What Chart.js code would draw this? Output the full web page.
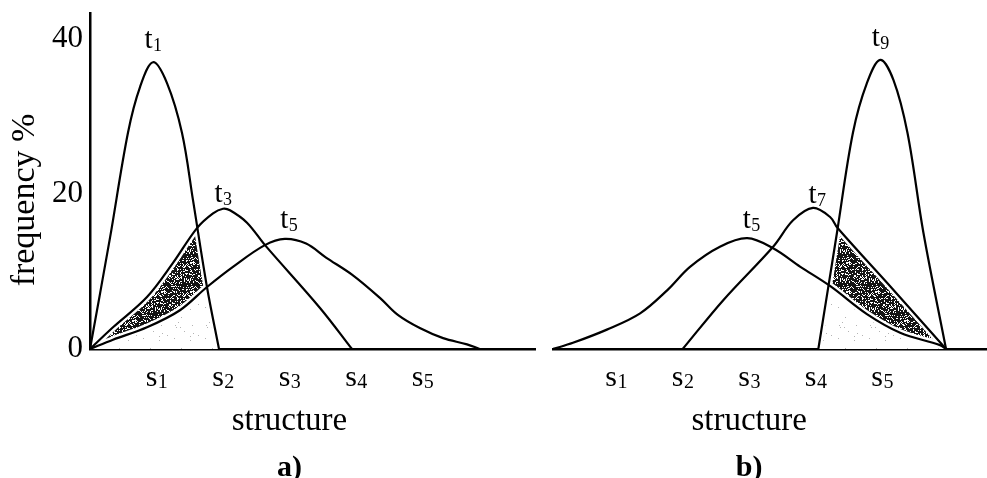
<!DOCTYPE html>
<html>
<head>
<meta charset="utf-8">
<script src="https://cdn.jsdelivr.net/npm/chart.js@4.4.1/dist/chart.umd.min.js"></script>
<style>
  html, body { margin: 0; padding: 0; background: #fff; }
  #wrap { position: relative; width: 987px; height: 478px; overflow: hidden; background: #fff; }
  canvas { position: absolute; top: 0; }
  #panelA { left: 0; }
  #panelB { left: 540px; }
</style>
</head>
<body>
<div id="wrap">
  <canvas id="panelA" width="540" height="478"></canvas>
  <canvas id="panelB" width="447" height="478"></canvas>
</div>
<script>
const FONT = "'Liberation Serif', 'Times New Roman', serif";

// structure classes along the x axis
const structureTicks = [1, 2, 3, 4, 5];
const structureLabels = ['s1', 's2', 's3', 's4', 's5'];
// frequency axis ticks (%)
const frequencyTicks = [0, 20, 40];

// panel a): distributions at t1, t3, t5
const aT1X = [0, 0.30, 0.571, 0.752, 0.947, 1.158, 1.383, 1.549, 1.759, 1.94];
const aT1F = [0, 14.3, 27.9, 33.8, 37.0, 34.3, 27.9, 19.2, 8.0, 0];

const aT3X = [0, 0.346, 0.857, 1.248, 1.609, 1.85, 2.0, 2.105, 2.361, 2.632, 3.459, 3.94];
const aT3F = [0, 2.8, 6.7, 11.1, 15.6, 17.5, 18.1, 17.9, 16.3, 13.4, 5.3, 0];

const aT5X = [0, 0.346, 0.857, 1.353, 1.76, 2.15, 2.63, 2.93, 3.25, 3.55, 3.94, 4.36, 4.63, 4.96, 5.31, 5.67, 5.86];
const aT5F = [0, 1.2, 2.8, 5.0, 8.0, 10.6, 13.4, 14.2, 13.6, 11.8, 9.6, 6.6, 4.4, 2.7, 1.4, 0.6, 0];

// panel b): distributions at t5, t7, t9
const bT5X = [0.05, 0.35, 0.86, 1.36, 1.77, 2.11, 2.56, 2.97, 3.36, 3.77, 4.22, 4.77, 5.27, 5.87, 5.96];
const bT5F = [0, 0.8, 2.5, 4.6, 7.6, 10.6, 13.2, 14.3, 13.0, 10.6, 8.1, 4.5, 2.1, 0.5, 0];

const bT7X = [2.0, 2.61, 3.36, 3.66, 3.96, 4.22, 4.33, 5.15, 5.96];
const bT7F = [0, 6.3, 13.2, 16.6, 18.2, 17.0, 15.6, 7.8, 0];

const bT9X = [4.04, 4.32, 4.56, 4.77, 4.97, 5.17, 5.38, 5.62, 5.96];
const bT9F = [0, 15.0, 27.9, 34.3, 37.3, 34.7, 27.9, 15.0, 0];

// ---- stipple textures for the overlap areas ----
function makeTile(size, bg, fg, perMille, seed) {
  const c = document.createElement('canvas');
  c.width = c.height = size;
  const g = c.getContext('2d');
  g.fillStyle = bg;
  g.fillRect(0, 0, size, size);
  g.fillStyle = fg;
  for (let y = 0; y < size; y++) {
    for (let x = 0; x < size; x++) {
      let h = (Math.imul(x + 1, 374761393) + Math.imul(y + 1, 668265263) + Math.imul(seed, 362437)) >>> 0;
      h = Math.imul(h ^ (h >>> 13), 1274126177) >>> 0;
      h = (h ^ (h >>> 16)) >>> 0;
      if (h % 1000 < perMille) g.fillRect(x, y, 1, 1);
    }
  }
  return c;
}
const darkTile = makeTile(29, '#141414', '#ffffff', 250, 7);
const lightTile = makeTile(31, '#ffffff', '#b4b4b4', 22, 3);

// trace a dataset's drawn curve, optionally closed down to the baseline
function traceCurve(ctx, chart, i, closeTo) {
  const meta = chart.getDatasetMeta(i);
  const line = meta.dataset;
  line.updateControlPoints(chart.chartArea, 'x');
  ctx.beginPath();
  line.path(ctx);
  if (closeTo !== undefined) {
    const pts = meta.data;
    ctx.lineTo(pts[pts.length - 1].x, closeTo);
    ctx.lineTo(pts[0].x, closeTo);
    ctx.closePath();
  }
}

// shaded overlap: between `upper` and `lower`, inside `outer`
const shadePlugin = {
  id: 'shade',
  beforeDatasetsDraw(chart) {
    const o = chart.options.plugins.shade;
    if (!o) return;
    const ctx = chart.ctx;
    const area = chart.chartArea;
    const base = chart.scales.y.getPixelForValue(0);
    ctx.save();
    ctx.beginPath();
    ctx.rect(area.left, area.top, area.right - area.left, area.bottom - area.top);
    ctx.clip();
    traceCurve(ctx, chart, o.outer, base);
    ctx.clip();
    traceCurve(ctx, chart, o.upper, base);
    ctx.clip();
    ctx.fillStyle = ctx.createPattern(darkTile, 'repeat');
    ctx.fillRect(area.left, area.top, area.right - area.left, area.bottom - area.top);
    traceCurve(ctx, chart, o.lower, base);
    ctx.fillStyle = ctx.createPattern(lightTile, 'repeat');
    ctx.fill();
    ctx.strokeStyle = '#fff';
    ctx.lineWidth = 7;
    ctx.lineJoin = 'round';
    [o.outer, o.upper, o.lower].forEach(i => {
      traceCurve(ctx, chart, i);
      ctx.stroke();
    });
    ctx.restore();
  }
};

// letter followed by a subscript number, centred on cx
function drawSubscripted(ctx, text, cx, baseline, size, subSize, drop) {
  const main = text.charAt(0);
  const sub = text.slice(1);
  ctx.font = size + 'px ' + FONT;
  const w1 = ctx.measureText(main).width;
  ctx.font = subSize + 'px ' + FONT;
  const w2 = ctx.measureText(sub).width;
  const x = cx - (w1 + w2) / 2;
  ctx.textAlign = 'left';
  ctx.textBaseline = 'alphabetic';
  ctx.font = size + 'px ' + FONT;
  ctx.fillText(main, x, baseline);
  ctx.font = subSize + 'px ' + FONT;
  ctx.fillText(sub, x + w1 + 0.5, baseline + drop);
}

const textPlugin = {
  id: 'panelText',
  afterDraw(chart) {
    const o = chart.options.plugins.panelText;
    const ctx = chart.ctx;
    const xs = chart.scales.x;
    const ys = chart.scales.y;
    const axisY = ys.getPixelForValue(0);
    ctx.save();
    ctx.fillStyle = '#000';

    // structure tick labels
    structureTicks.forEach((v, i) => {
      drawSubscripted(ctx, structureLabels[i], xs.getPixelForValue(v), axisY + 37, 30, 20, 2);
    });

    // curve labels above each peak
    chart.data.datasets.forEach((ds, i) => {
      const peak = ds.data.reduce((m, p) => (p.y > m.y ? p : m));
      const place = o.labelPlace[i];
      drawSubscripted(ctx, ds.label,
        xs.getPixelForValue(peak.x) + place.dx,
        ys.getPixelForValue(peak.y) - place.gap, 29, 18, 3);
    });

    const mid = xs.getPixelForValue(structureTicks[2]);
    ctx.textAlign = 'center';
    ctx.textBaseline = 'alphabetic';
    ctx.font = '33px ' + FONT;
    ctx.fillText(o.xTitle, mid, axisY + 81);
    ctx.font = 'bold 30px ' + FONT;
    ctx.fillText(o.panel, mid, axisY + 127);

    if (o.yTitle) {
      ctx.translate(o.yTitleAt[0], o.yTitleAt[1]);
      ctx.rotate(-Math.PI / 2);
      ctx.textBaseline = 'middle';
      ctx.font = '34px ' + FONT;
      ctx.fillText(o.yTitle, 0, 0);
    }
    ctx.restore();
  }
};

function buildPanel(id, cfg) {
  const datasets = cfg.series.map(s => ({
    label: s.label,
    data: s.x.map((x, k) => ({ x: x, y: s.f[k] })),
    borderColor: '#000',
    borderWidth: 2.2,
    pointRadius: 0,
    pointHoverRadius: 0,
    tension: 0.35,
    fill: false
  }));
  return new Chart(document.getElementById(id), {
    type: 'line',
    data: { datasets: datasets },
    options: {
      responsive: false,
      animation: false,
      events: [],
      layout: { padding: cfg.padding },
      plugins: {
        legend: { display: false },
        tooltip: { enabled: false },
        title: { display: false },
        shade: cfg.shade,
        panelText: cfg.text
      },
      scales: {
        x: {
          type: 'linear',
          min: cfg.xMin,
          max: cfg.xMax,
          grid: { display: false, drawTicks: false },
          ticks: { display: false },
          border: { display: true, color: '#000', width: 2.5 },
          afterFit: s => { s.height = 129; s.paddingLeft = 0; s.paddingRight = 0; }
        },
        y: {
          type: 'linear',
          min: 0,
          max: 43.35,
          display: cfg.showY,
          grid: { display: false, drawTicks: false },
          border: { display: true, color: '#000', width: 2.5 },
          ticks: { font: { family: FONT, size: 31 }, color: '#000', padding: 7 },
          afterBuildTicks: s => { s.ticks = frequencyTicks.map(v => ({ value: v })); },
          afterFit: s => { if (cfg.showY) s.width = 90; s.paddingTop = 0; s.paddingBottom = 0; }
        }
      }
    },
    plugins: [shadePlugin, textPlugin]
  });
}

buildPanel('panelA', {
  series: [
    { label: 't1', x: aT1X, f: aT1F },
    { label: 't3', x: aT3X, f: aT3F },
    { label: 't5', x: aT5X, f: aT5F }
  ],
  xMin: 0, xMax: 6.7, showY: true,
  padding: { left: 0, top: 13, right: 4.5, bottom: 0 },
  shade: { outer: 0, upper: 1, lower: 2 },
  text: {
    panel: 'a)', xTitle: 'structure', yTitle: 'frequency %', yTitleAt: [25, 200],
    labelPlace: [{ dx: 0, gap: 14 }, { dx: 0, gap: 7 }, { dx: 4, gap: 11 }]
  }
});

buildPanel('panelB', {
  series: [
    { label: 't5', x: bT5X, f: bT5F },
    { label: 't7', x: bT7X, f: bT7F },
    { label: 't9', x: bT9X, f: bT9F }
  ],
  xMin: 0.05, xMax: 6.576, showY: false,
  padding: { left: 13, top: 13, right: 0, bottom: 0 },
  shade: { outer: 2, upper: 1, lower: 0 },
  text: {
    panel: 'b)', xTitle: 'structure', yTitle: null,
    labelPlace: [{ dx: 4, gap: 10 }, { dx: 4, gap: 5 }, { dx: 0, gap: 14 }]
  }
});
</script>
</body>
</html>
